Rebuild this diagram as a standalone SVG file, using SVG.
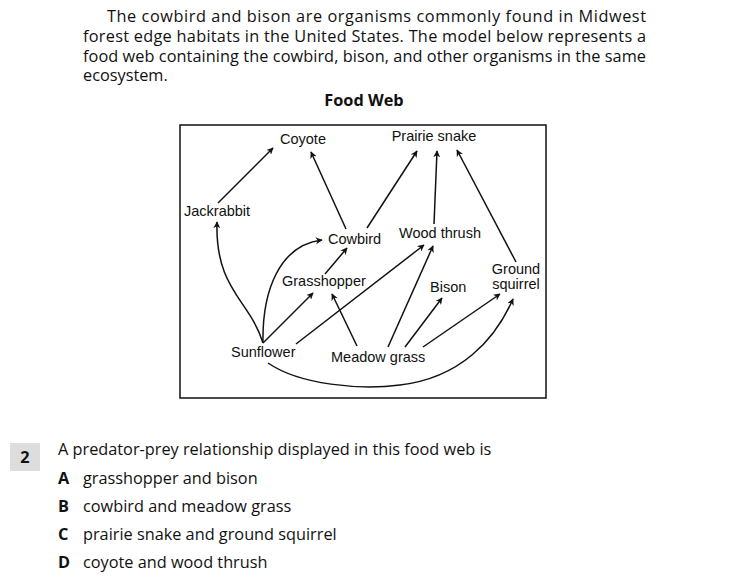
<svg xmlns="http://www.w3.org/2000/svg" width="730" height="582" viewBox="0 0 730 582">
<style>
.p{font-family:"Open Sans","Liberation Sans",sans-serif;font-size:16.3px;fill:#111}
.b{font-weight:bold}
.n{font-family:"Liberation Sans",Arial,sans-serif;font-size:14.5px;fill:#111}
.c path{fill:none;stroke:#111;stroke-width:1.5;marker-end:url(#a)}
</style>
<defs><marker id="a" viewBox="0 0 10 10" refX="9" refY="5" markerWidth="7" markerHeight="7" orient="auto" markerUnits="userSpaceOnUse"><path d="M0,0 L10,5 L0,10 L3,5 Z" fill="#111"/></marker></defs>
<rect width="730" height="582" fill="#fff"/>
<text class="p" x="107" y="22" textLength="539" lengthAdjust="spacing">The cowbird and bison are organisms commonly found in Midwest</text>
<text class="p" x="83" y="42" textLength="563" lengthAdjust="spacing">forest edge habitats in the United States. The model below represents a</text>
<text class="p" x="83" y="62" textLength="563" lengthAdjust="spacing">food web containing the cowbird, bison, and other organisms in the same</text>
<text class="p" x="83" y="81">ecosystem.</text>
<text class="p b" x="364" y="106" text-anchor="middle">Food Web</text>
<rect x="180" y="125" width="366" height="273" fill="none" stroke="#111" stroke-width="1.5"/>
<g id="coyote"><text class="n" x="303" y="144" text-anchor="middle">Coyote</text></g>
<g id="prairie-snake"><text class="n" x="434" y="141" text-anchor="middle">Prairie snake</text></g>
<g id="jackrabbit"><text class="n" x="184" y="216">Jackrabbit</text></g>
<g id="cowbird"><text class="n" x="328" y="244">Cowbird</text></g>
<g id="wood-thrush"><text class="n" x="399" y="238">Wood thrush</text></g>
<g id="grasshopper"><text class="n" x="282" y="286">Grasshopper</text></g>
<g id="bison"><text class="n" x="430" y="292">Bison</text></g>
<g id="ground-squirrel"><text class="n" x="516" y="274" text-anchor="middle">Ground</text><text class="n" x="516" y="289" text-anchor="middle">squirrel</text></g>
<g id="sunflower"><text class="n" x="231" y="357">Sunflower</text></g>
<g id="meadow-grass"><text class="n" x="331" y="362">Meadow grass</text></g>
<g id="connectors" class="c">
<path d="M218,203 L273,148"/>
<path d="M346,229 L311,152"/>
<path d="M367,228 L417,151"/>
<path d="M434,224 L437,151"/>
<path d="M516,262 L457,150"/>
<path d="M263,343 C250,300 215,290 217,222"/>
<path d="M263,343 C262,290 280,245 322,240"/>
<path d="M263,343 L313,293"/>
<path d="M325,274 L347,248"/>
<path d="M296,344 L424,245"/>
<path d="M357,346 L332,294"/>
<path d="M388,347 L433,246"/>
<path d="M405,347 L442,298"/>
<path d="M423,347 L500,294"/>
<path d="M268,363 C300,385 360,390 400,385 C460,378 495,340 513,299"/>
</g>
<rect x="10" y="443" width="30" height="28" fill="#ddd"/>
<text class="p b" x="25" y="463" text-anchor="middle">2</text>
<text class="p" x="58" y="455">A predator-prey relationship displayed in this food web is</text>
<text class="p b" x="58" y="484">A</text><text class="p" x="83" y="484">grasshopper and bison</text>
<text class="p b" x="58" y="512">B</text><text class="p" x="83" y="512">cowbird and meadow grass</text>
<text class="p b" x="58" y="540">C</text><text class="p" x="83" y="540">prairie snake and ground squirrel</text>
<text class="p b" x="58" y="568">D</text><text class="p" x="83" y="568">coyote and wood thrush</text>
</svg>
